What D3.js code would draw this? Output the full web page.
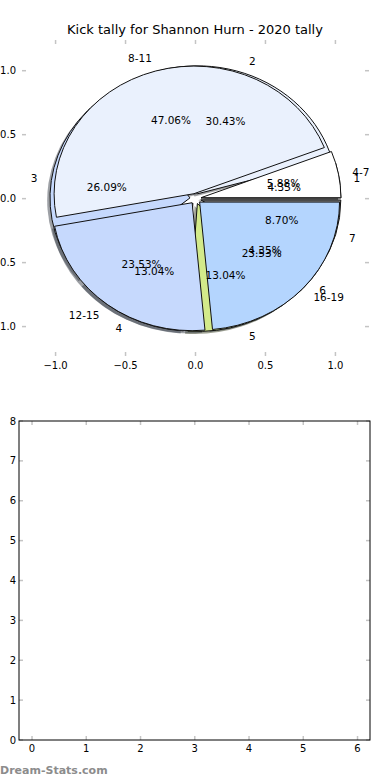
<!DOCTYPE html>
<html>
<head>
<meta charset="utf-8">
<script src="https://cdn.jsdelivr.net/npm/d3@7"></script>
<style>
body{margin:0;background:#fff;}
text{font-family:"DejaVu Sans",sans-serif;}
</style>
</head>
<body>
<div id="chart"></div>
<script>
'use strict'

var width = 390;
var height = 780;
var title = 'Kick tally for Shannon Hurn - 2020 tally';

// age groups pie (drawn on top) and kicks pie (drawn underneath)
var groupLabels = ['4-7', '8-11', '12-15', '16-19'];
var groupCounts = [1, 8, 4, 4];
var kickLabels = ['1', '2', '3', '4', '5', '6', '7'];
var kickCounts = [1, 7, 6, 3, 3, 1, 2];
var pieColors = ['#ffffff', '#eaf1fd', '#c6d9fd', '#b4d5fe', '#d3ea8a', '#9a9a9a', '#8c8c8c'];

var pieTicks = [-1, -0.5, 0, 0.5, 1];
var barXTicks = [0, 1, 2, 3, 4, 5, 6];
var barYTicks = [0, 1, 2, 3, 4, 5, 6, 7, 8];

var explode = 0.04;
var shadowOffset = 0.02;
var tickColor = '#c4c4c4';

var svg = d3.select('#chart').append('svg')
  .attr('width', width)
  .attr('height', height);

//title

svg.append('text')
  .attr('x', 195)
  .attr('y', 34)
  .attr('text-anchor', 'middle')
  .style('font-size', '13px')
  .text(title);

//scales for the pie axes

var x = d3.scaleLinear().domain([-1.24, 1.24]).range([22, 369]);
var y = d3.scaleLinear().domain([-1.23, 1.24]).range([356, 40]);
var kx = x(1) - x(0);
var ky = y(0) - y(1);

//ticks of the pie axes (frame is hidden)

var pieAxis = svg.append('g');

pieTicks.forEach(function(t){
  pieAxis.append('line').attr('x1', x(t)).attr('x2', x(t)).attr('y1', y.range()[0]).attr('y2', y.range()[0] - 4);
  pieAxis.append('line').attr('x1', x(t)).attr('x2', x(t)).attr('y1', y.range()[1]).attr('y2', y.range()[1] + 4);
  pieAxis.append('line').attr('y1', y(t)).attr('y2', y(t)).attr('x1', x.range()[0]).attr('x2', x.range()[0] + 4);
  pieAxis.append('line').attr('y1', y(t)).attr('y2', y(t)).attr('x1', x.range()[1]).attr('x2', x.range()[1] - 4);
});
pieAxis.selectAll('line').attr('stroke', tickColor).attr('stroke-width', 1.5);

var tickFormat = function(t){ return d3.format('.1f')(t).replace('-', '\u2212'); };

pieAxis.selectAll('.xl').data(pieTicks).enter().append('text')
  .attr('x', function(d){ return x(d); })
  .attr('y', 369)
  .attr('text-anchor', 'middle')
  .style('font-size', '10px')
  .text(tickFormat);

pieAxis.selectAll('.yl').data(pieTicks).enter().append('text')
  .attr('x', 16)
  .attr('y', function(d){ return y(d); })
  .attr('dy', '0.35em')
  .attr('text-anchor', 'end')
  .style('font-size', '10px')
  .text(tickFormat);

//build slices the way matplotlib does: counterclockwise from 3 o'clock

var pie = d3.pie().sort(null).startAngle(Math.PI / 2).endAngle(Math.PI / 2 - 2 * Math.PI);
var arc = d3.arc().innerRadius(0).outerRadius(1);

function slices(counts, labels){
  var total = d3.sum(counts);
  return pie(counts).map(function(s, i){
    var theta = Math.PI / 2 - (s.startAngle + s.endAngle) / 2;
    return {
      slice: s,
      label: labels[i],
      pct: d3.format('.2f')(counts[i] / total * 100) + '%',
      color: pieColors[i % pieColors.length],
      theta: theta,
      cx: explode * Math.cos(theta),
      cy: explode * Math.sin(theta)
    };
  });
}

var kickSlices = slices(kickCounts, kickLabels);
var groupSlices = slices(groupCounts, groupLabels);
var allSlices = kickSlices.concat(groupSlices);

function place(dx, dy){
  return function(d){
    return 'translate(' + x(d.cx + dx) + ',' + y(d.cy + dy) + ') scale(' + kx + ',' + ky + ')';
  };
}

//shadows sit under every wedge

svg.append('g').selectAll('path').data(allSlices).enter().append('path')
  .attr('transform', place(-shadowOffset, -shadowOffset))
  .attr('d', function(d){ return arc(d.slice); })
  .attr('fill', function(d){
    var c = d3.rgb(d.color);
    return d3.rgb(c.r * 0.3, c.g * 0.3, c.b * 0.3);
  })
  .attr('fill-opacity', 0.5);

//wedges, kicks first then age groups on top

svg.append('g').selectAll('path').data(allSlices).enter().append('path')
  .attr('transform', place(0, 0))
  .attr('d', function(d){ return arc(d.slice); })
  .attr('fill', function(d){ return d.color; })
  .attr('stroke', '#111')
  .attr('stroke-width', 1)
  .attr('stroke-linejoin', 'round')
  .attr('vector-effect', 'non-scaling-stroke');

//labels and percentages

var texts = svg.append('g').style('font-size', '10.5px');

allSlices.forEach(function(d){
  var lx = d.cx + 1.1 * Math.cos(d.theta);
  var ly = d.cy + 1.1 * Math.sin(d.theta);
  texts.append('text')
    .attr('x', x(lx))
    .attr('y', y(ly))
    .attr('dy', '0.35em')
    .attr('text-anchor', lx > 0 ? 'start' : 'end')
    .text(d.label);
  texts.append('text')
    .attr('x', x(d.cx + 0.6 * Math.cos(d.theta)))
    .attr('y', y(d.cy + 0.6 * Math.sin(d.theta)))
    .attr('dy', '0.35em')
    .attr('text-anchor', 'middle')
    .text(d.pct);
});

//empty lower axes

var bx = d3.scaleLinear().domain([-0.24, 6.23]).range([19, 370]);
var by = d3.scaleLinear().domain([0, 8]).range([740, 421]);

var lower = svg.append('g');

barXTicks.forEach(function(t){
  lower.append('line').attr('x1', bx(t)).attr('x2', bx(t)).attr('y1', by(0)).attr('y2', by(0) - 4);
  lower.append('line').attr('x1', bx(t)).attr('x2', bx(t)).attr('y1', by(8)).attr('y2', by(8) + 4);
});
barYTicks.forEach(function(t){
  lower.append('line').attr('y1', by(t)).attr('y2', by(t)).attr('x1', bx.range()[0]).attr('x2', bx.range()[0] + 4);
  lower.append('line').attr('y1', by(t)).attr('y2', by(t)).attr('x1', bx.range()[1]).attr('x2', bx.range()[1] - 4);
});
lower.selectAll('line').attr('stroke', tickColor).attr('stroke-width', 1.5);

lower.append('rect')
  .attr('x', bx.range()[0])
  .attr('y', by(8))
  .attr('width', bx.range()[1] - bx.range()[0])
  .attr('height', by(0) - by(8))
  .attr('fill', 'none')
  .attr('stroke', '#000')
  .attr('stroke-width', 1);

lower.selectAll('.bxl').data(barXTicks).enter().append('text')
  .attr('x', function(d){ return bx(d); })
  .attr('y', 752)
  .attr('text-anchor', 'middle')
  .style('font-size', '10px')
  .text(function(d){ return d; });

lower.selectAll('.byl').data(barYTicks).enter().append('text')
  .attr('x', 16)
  .attr('y', function(d){ return by(d); })
  .attr('dy', '0.35em')
  .attr('text-anchor', 'end')
  .style('font-size', '10px')
  .text(function(d){ return d; });

//watermark

svg.append('text')
  .attr('x', 0)
  .attr('y', 774)
  .attr('fill', '#8c8c8c')
  .style('font-size', '11px')
  .style('font-weight', 'bold')
  .text('Dream-Stats.com');
</script>
</body>
</html>
